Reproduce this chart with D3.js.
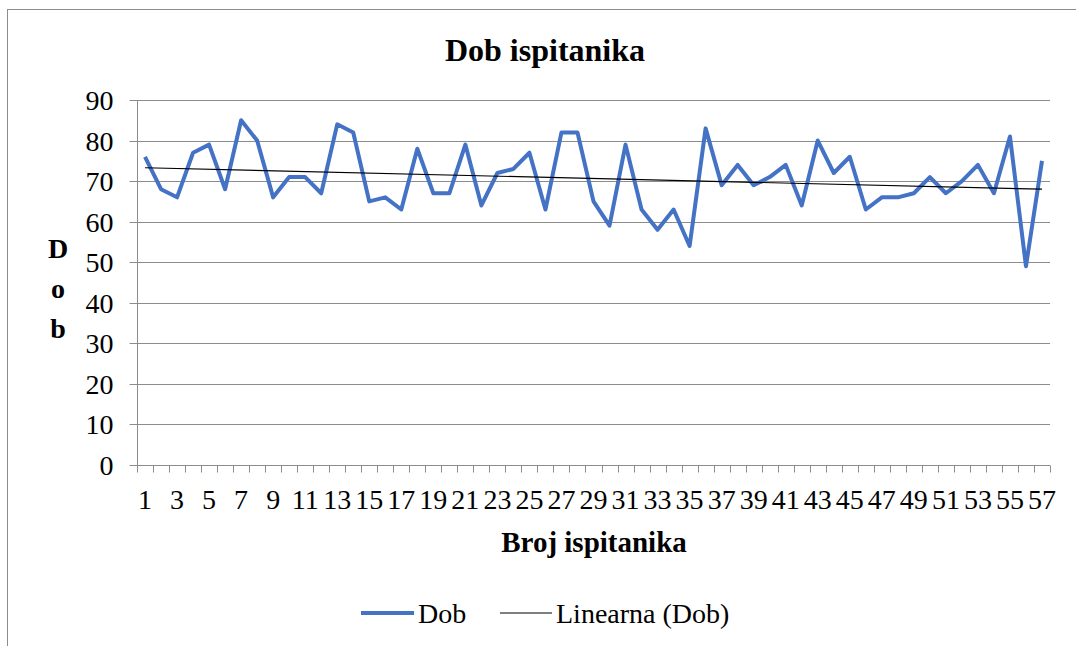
<!DOCTYPE html>
<html>
<head>
<meta charset="utf-8">
<script src="https://cdn.jsdelivr.net/npm/d3@7"></script>
<style>
  html, body { margin: 0; padding: 0; background: #fff; }
</style>
</head>
<body>
<svg id="chart" width="1076" height="646"></svg>
<script>
// Dob ispitanika – age of each respondent, with linear trend
var ispitanici = d3.range(1, 58);
var dob = [76, 68, 66, 77, 79, 68, 85, 80, 66, 71, 71, 67, 84, 82, 65, 66, 63, 78, 67, 67,
           79, 64, 72, 73, 77, 63, 82, 82, 65, 59, 79, 63, 58, 63, 54, 83, 69, 74, 69, 71,
           74, 64, 80, 72, 76, 63, 66, 66, 67, 71, 67, 70, 74, 67, 81, 49, 75];
var yTicks = [0, 10, 20, 30, 40, 50, 60, 70, 80, 90];

(function () {
  var FONT = "'Liberation Serif', 'Times New Roman', serif";
  var svg = d3.select('#chart');
  var plotL = 137, plotR = 1050, plotT = 100, plotB = 465;
  var GRID = '#8c8c8c';

  // outer chart frame (right and bottom edges fall outside the picture)
  svg.append('rect')
    .attr('x', 7.5).attr('y', 9.5)
    .attr('width', 1200).attr('height', 800)
    .attr('fill', 'none').attr('stroke', GRID).attr('stroke-width', 1);

  var x = d3.scaleBand().domain(ispitanici).range([plotL, plotR]);
  var y = d3.scaleLinear().domain([0, 90]).range([plotB, plotT]);
  function cx(d) { return x(d) + x.bandwidth() / 2; }
  function py(v) { return Math.round(y(v)) + 0.5; }

  // gridlines
  svg.append('g')
    .selectAll('line')
    .data(yTicks.filter(function (t) { return t > 0; }))
    .join('line')
    .attr('x1', plotL).attr('x2', plotR)
    .attr('y1', py).attr('y2', py)
    .attr('stroke', GRID).attr('stroke-width', 1);

  // y axis
  var yAxis = svg.append('g')
    .attr('transform', 'translate(' + (plotL + 0.5) + ',0)')
    .call(d3.axisLeft(y).tickValues(yTicks).tickSize(8).tickPadding(16).tickFormat(d3.format('d')));
  yAxis.select('.domain').attr('stroke', GRID).attr('d', 'M0,' + py(0) + 'V' + plotT);
  yAxis.selectAll('.tick').attr('transform', function (d) { return 'translate(0,' + py(d) + ')'; });
  yAxis.selectAll('.tick line').attr('stroke', GRID);
  yAxis.selectAll('.tick text')
    .attr('font-size', 28).attr('fill', '#000').attr('dy', '0.34em');

  // x axis: ticks at category boundaries, labels every other category
  var xg = svg.append('g').attr('transform', 'translate(0,' + py(0) + ')');
  xg.append('line')
    .attr('x1', plotL).attr('x2', plotR)
    .attr('stroke', GRID);
  xg.selectAll('line.tk')
    .data(ispitanici.concat([ispitanici.length + 1]))
    .join('line')
    .attr('class', 'tk')
    .attr('x1', function (d) { return Math.round(d > ispitanici.length ? plotR : x(d)) + 0.5; })
    .attr('x2', function (d) { return Math.round(d > ispitanici.length ? plotR : x(d)) + 0.5; })
    .attr('y1', 0).attr('y2', 7)
    .attr('stroke', GRID);
  xg.selectAll('text')
    .data(ispitanici.filter(function (d) { return d % 2 === 1; }))
    .join('text')
    .attr('x', cx)
    .attr('y', 43)
    .attr('text-anchor', 'middle')
    .attr('font-size', 28)
    .text(function (d) { return d; });

  // linear trend (least squares over the series)
  var n = dob.length;
  var mx = d3.mean(ispitanici), my = d3.mean(dob);
  var sxy = 0, sxx = 0;
  ispitanici.forEach(function (xi, i) { sxy += (xi - mx) * (dob[i] - my); sxx += (xi - mx) * (xi - mx); });
  var slope = sxy / sxx, icpt = my - slope * mx;

  // series line
  svg.append('path')
    .datum(ispitanici)
    .attr('fill', 'none')
    .attr('stroke', '#4472C4')
    .attr('stroke-width', 4)
    .attr('stroke-linejoin', 'round')
    .attr('d', d3.line().x(cx).y(function (d, i) { return y(dob[i]); }));

  svg.append('line')
    .attr('x1', cx(1)).attr('y1', y(icpt + slope * 1))
    .attr('x2', cx(n)).attr('y2', y(icpt + slope * n))
    .attr('stroke', '#000').attr('stroke-width', 1.2);

  // titles
  svg.append('text')
    .attr('x', 545).attr('y', 61)
    .attr('text-anchor', 'middle').attr('font-size', 32).attr('font-weight', 'bold')
    .text('Dob ispitanika');

  svg.append('text')
    .attr('x', 594).attr('y', 552)
    .attr('text-anchor', 'middle').attr('font-size', 29).attr('font-weight', 'bold')
    .text('Broj ispitanika');

  ['D', 'o', 'b'].forEach(function (ch, i) {
    svg.append('text')
      .attr('x', 58).attr('y', 258 + i * 40)
      .attr('text-anchor', 'middle').attr('font-size', 28).attr('font-weight', 'bold')
      .text(ch);
  });

  // legend
  var lg = svg.append('g');
  lg.append('line').attr('x1', 361).attr('x2', 414).attr('y1', 613).attr('y2', 613)
    .attr('stroke', '#4472C4').attr('stroke-width', 4);
  lg.append('text').attr('x', 418).attr('y', 623).attr('font-size', 28).text('Dob');
  lg.append('line').attr('x1', 500).attr('x2', 552).attr('y1', 613).attr('y2', 613)
    .attr('stroke', '#000').attr('stroke-width', 1.2);
  lg.append('text').attr('x', 556).attr('y', 623).attr('font-size', 28).text('Linearna (Dob)');

  // every text in the serif face
  svg.selectAll('text').style('font-family', FONT);
})();
</script>
</body>
</html>
